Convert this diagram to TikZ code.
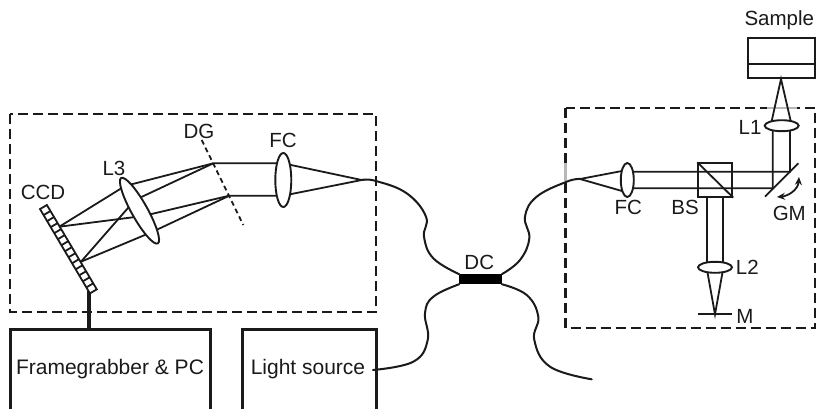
\documentclass[tikz,border=0pt]{standalone}
\usepackage{fontspec}
\setmainfont{Liberation Sans}
\usetikzlibrary{arrows.meta,calc,shapes.geometric}
\definecolor{ink}{HTML}{1A1A1A}
\definecolor{fade}{HTML}{B8B8B8}
\tikzset{
  x=1pt,y=-1pt,
  beam/.style={draw=ink,line width=1.8pt},
  fibre/.style={draw=ink,line width=2pt,line cap=round},
  lens/.style={ellipse,draw=ink,line width=1.9pt,fill=white,inner sep=0pt},
  frame/.style={draw=ink,line width=2.1pt,dash pattern=on 10pt off 5pt},
  block/.style={draw=ink,line width=3pt},
  lab/.style={text=ink,font=\fontsize{21}{21}\selectfont,inner sep=0pt},
  smlab/.style={text=ink,font=\fontsize{20.5}{20.5}\selectfont,inner sep=0pt},
}
\begin{document}
\begin{tikzpicture}
\useasboundingbox (0,0) rectangle (820,408);
% dashed frames
\draw[frame] (10,114) rectangle (376,312);
\draw[frame] (565.5,108) rectangle (815,328);
\draw[fade,line width=2.1pt] (565.5,163) -- (565.5,181);
\draw[fade,line width=2.1pt] (767,108) -- (797,108);
% lower blocks (run off the lower edge)
\coordinate (fgA) at (10,409);
\coordinate (fgB) at (10,329);
\coordinate (fgC) at (210,329);
\coordinate (fgD) at (210,409);
\coordinate (lsA) at (242,409);
\coordinate (lsB) at (242,329);
\coordinate (lsC) at (376,329);
\coordinate (lsD) at (376,409);
\draw[block] (fgA) -- (fgB) -- (fgC) -- (fgD);
\draw[block] (lsA) -- (lsB) -- (lsC) -- (lsD);
\node[lab] (fglab) at (110,369) {Framegrabber \& PC};
\node[lab] (lslab) at (308,369) {Light source};
% CCD
\coordinate (ccdEnd) at (89,291);
\coordinate (fgTap) at (89,329);
\draw[ink,line width=4pt] (ccdEnd) -- (fgTap);
\begin{scope}[shift={(68.4,249.2)},rotate=-59.4]
  \draw[draw=ink,line width=1.8pt,fill=white] (-49,-4) rectangle (49,4);
  \foreach \k in {1,...,13} \draw[ink,line width=1.8pt] ({-49+\k*7},-4) -- ({-49+\k*7},4);
\end{scope}
\coordinate (ccdA) at (59.3,226.7);
\coordinate (ccdB) at (81,261.7);
% spectrometer rays
\coordinate (dgA) at (213.3,163.3);
\coordinate (dgB) at (229.3,195.7);
\coordinate (dgS) at (201.7,140);
\coordinate (dgE) at (243.3,225);
\coordinate (lfA) at (125,186);
\coordinate (lfB) at (143,216);
\coordinate (lfC) at (135,200);
\coordinate (lfD) at (152,232);
\coordinate (fibL) at (361.7,180);
\draw[beam] (ccdA) -- (lfA) -- (dgA);
\draw[beam] (ccdA) -- (lfB) -- (dgB);
\draw[beam] (ccdB) -- (lfC) -- (dgA);
\draw[beam] (ccdB) -- (lfD) -- (dgB);
\draw[ink,line width=1.8pt,dash pattern=on 5pt off 3.5pt] (dgS) -- (dgE);
\coordinate (fcLt) at (283,163.3);
\coordinate (fcLb) at (283,195.7);
\draw[beam] (dgA) -- (fcLt) -- (fibL) -- (fcLb) -- (dgB);
\node[lens,minimum width=75pt,minimum height=16pt,rotate=-60.8] (L3) at (139.5,210.7) {};
\node[lens,minimum width=16pt,minimum height=54pt] (FCl) at (283.3,180) {};
% coupler
\node[rectangle,fill=black,minimum width=42.4pt,minimum height=9.7pt,inner sep=0pt] (DC) at (480.5,279.2) {};
% fibres
\coordinate (fibR) at (580,179);
\coordinate (fibS) at (373,370);
\coordinate (fibE) at (591.7,379.3);
\draw[fibre] plot[smooth,tension=0.7] coordinates {(fibL) (376,181) (406.7,193.3) (426,216.7) (424,236.7) (433.3,258.3) (DC.north west)};
\draw[fibre] plot[smooth,tension=0.7] coordinates {(fibR) (566.7,181.7) (536.7,196.7) (525,216.7) (529.3,238.3) (520,260) (DC.north east)};
\draw[fibre] plot[smooth,tension=0.7] coordinates {(DC.south west) (433.3,296.7) (425,313.3) (427.7,340) (413.3,361.7) (fibS)};
\draw[fibre] plot[smooth,tension=0.7] coordinates {(DC.south east) (526.7,295) (538.3,316.7) (534.3,340) (550,366.7) (fibE)};
% interferometer beams
\coordinate (fcRt) at (627,171.7);
\coordinate (fcRb) at (627,188.3);
\coordinate (mirT) at (790,171.7);
\coordinate (mirB) at (772.7,188.3);
\coordinate (upR) at (790,125);
\coordinate (upL) at (772.7,125);
\coordinate (smp) at (781,79);
\coordinate (dnL) at (706.7,196.7);
\coordinate (dnR) at (723.3,196.7);
\coordinate (lowL) at (706.7,268);
\coordinate (lowR) at (723.3,268);
\coordinate (mPt) at (715,314.3);
\coordinate (mS) at (698.3,314.3);
\coordinate (mE) at (732.3,314.3);
\coordinate (mirS) at (765,196.7);
\coordinate (mirE) at (798.3,163.3);
\draw[beam] (fibR) -- (622,171) -- (fcRt) -- (mirT) -- (upR);
\draw[beam] (fibR) -- (622,191) -- (fcRb) -- (mirB) -- (upL);
\draw[beam] (dnL) -- (lowL);
\draw[beam] (dnR) -- (lowR);
\draw[beam] (upL) -- (771.7,121) -- (smp) -- (790.7,121) -- (upR);
\draw[beam] (lowL) -- (mPt) -- (lowR);
\draw[beam] (mS) -- (mE);
\draw[beam] (mirS) -- (mirE);
\node[lens,minimum width=13pt,minimum height=34pt] (FCr) at (627.3,180) {};
\node[lens,minimum width=34pt,minimum height=11pt] (L1) at (781.7,125.7) {};
\node[lens,minimum width=34pt,minimum height=11pt] (L2) at (715,267.3) {};
\node[rectangle,draw=ink,line width=1.9pt,minimum width=34pt,minimum height=33.4pt,inner sep=0pt] (BS) at (715.3,180) {};
\draw[beam] (BS.north west) -- (BS.south east);
\node[rectangle,draw=ink,line width=2.2pt,minimum width=67.3pt,minimum height=40pt,inner sep=0pt] (sampleBox) at (781.3,58.3) {};
\coordinate (divL) at (747.7,64);
\coordinate (divR) at (815,64);
\draw[ink,line width=2.2pt] (divL) -- (divR);
% scan arrow
\coordinate (gmA) at (777,197);
\coordinate (gmB) at (799,177);
\draw[ink,line width=1.8pt,{Stealth[length=8pt,width=7pt]}-{Stealth[length=8pt,width=7pt]}] (gmA) .. controls (788,196) and (798,190) .. (gmB);
% labels
\node[smlab] (tDG) at (199,131) {DG};
\node[smlab] (tFCl) at (283,140) {FC};
\node[smlab] (tL3) at (114,168) {L3};
\node[smlab] (tCCD) at (43,192) {CCD};
\node[smlab] (tDC) at (479.3,262) {DC};
\node[smlab] (tSample) at (779.3,20) {Sample};
\node[smlab] (tL1) at (750,127) {L1};
\node[smlab] (tFCr) at (628.3,207) {FC};
\node[smlab] (tBS) at (685,207) {BS};
\node[smlab] (tGM) at (789.3,213) {GM};
\node[smlab] (tL2) at (747.3,267) {L2};
\node[smlab] (tM) at (745,316) {M};
\end{tikzpicture}
\end{document}
